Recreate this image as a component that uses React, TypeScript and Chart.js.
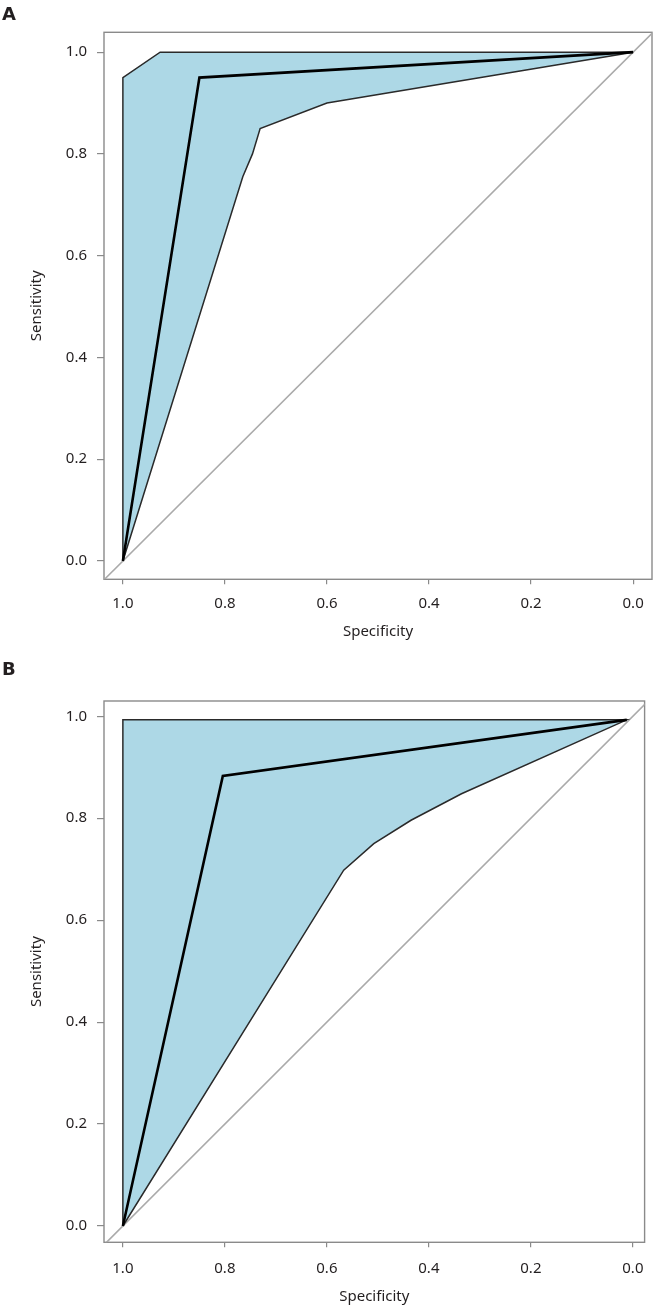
import React, { useEffect, useRef } from "react";
import { Chart, registerables } from "chart.js";

Chart.register(...registerables);

// ---- shared tick values ----
const tickValues = [0, 0.2, 0.4, 0.6, 0.8, 1.0];
const xTitle = "Specificity";
const yTitle = "Sensitivity";

// ---- Panel A data ----
const rocASpec = [1.0, 0.85, 0.0];
const rocASens = [0.0, 0.95, 1.0];
const ciAUpperSpec = [1.0, 1.0, 0.927, 0.0];
const ciAUpperSens = [0.0, 0.95, 1.0, 1.0];
const ciALowerSpec = [1.0, 0.765, 0.746, 0.731, 0.6, 0.0];
const ciALowerSens = [0.0, 0.755, 0.8, 0.85, 0.9, 1.0];

// ---- Panel B data ----
const rocBSpec = [1.0, 0.804, 0.012];
const rocBSens = [0.0, 0.883, 0.993];
const ciBUpperSpec = [1.0, 1.0, 0.012];
const ciBUpperSens = [0.0, 0.993, 0.993];
const ciBLowerSpec = [1.0, 0.567, 0.508, 0.435, 0.336, 0.012];
const ciBLowerSens = [0.0, 0.698, 0.75, 0.796, 0.848, 0.993];

// ---- reference diagonal (sensitivity = 1 - specificity) ----
const diagSpec = [1.2, -0.2];
const diagSens = [-0.2, 1.2];

const FONT = "'Noto Sans', 'DejaVu Sans', sans-serif";
const LABEL_FONT = "'DejaVu Sans', Verdana, sans-serif";

const pts = (xs: number[], ys: number[]) => xs.map((x, i) => ({ x, y: ys[i] }));

const boxPlugin = {
  id: "plotBox",
  beforeDatasetsDraw(chart: any) {
    const { ctx, chartArea } = chart;
    const { left, top, right, bottom } = chartArea;
    ctx.save();
    ctx.strokeStyle = "#8a8a8a";
    ctx.lineWidth = 1.4;
    ctx.strokeRect(left, top, right - left, bottom - top);
    ctx.restore();
  },
};

type PanelCfg = {
  height: number;
  padTop: number;
  padRight: number;
  xAxisHeight: number;
  xMin: number;
  xMax: number;
  yMin: number;
  yMax: number;
  xTickPad: number;
  xTitlePad: number;
  rocSpec: number[];
  rocSens: number[];
  upSpec: number[];
  upSens: number[];
  loSpec: number[];
  loSens: number[];
};

function buildChart(canvas: HTMLCanvasElement, p: PanelCfg) {
  const band = pts(p.upSpec, p.upSens).concat(pts(p.loSpec, p.loSens).reverse());
  return new Chart(canvas, {
    type: "line",
    data: {
      datasets: [
        {
          data: pts(p.rocSpec, p.rocSens),
          borderColor: "#000000",
          borderWidth: 2.6,
          pointRadius: 0,
          tension: 0,
          fill: false,
        },
        {
          data: band,
          borderColor: "#2a2a2a",
          borderWidth: 1.5,
          backgroundColor: "#add8e6",
          pointRadius: 0,
          tension: 0,
          fill: "shape",
        },
        {
          data: pts(diagSpec, diagSens),
          borderColor: "#aaaaaa",
          borderWidth: 1.6,
          pointRadius: 0,
          tension: 0,
          fill: false,
          clip: 0,
        },
      ] as any,
    },
    options: {
      responsive: false,
      animation: false,
      events: [],
      layout: { padding: { top: p.padTop, right: p.padRight, left: 0, bottom: 0 } },
      plugins: { legend: { display: false }, tooltip: { enabled: false } },
      scales: {
        x: {
          type: "linear",
          reverse: true,
          min: p.xMin,
          max: p.xMax,
          afterBuildTicks: (s: any) => {
            s.ticks = tickValues.map((v) => ({ value: v }));
          },
          afterFit: (s: any) => {
            s.height = p.xAxisHeight;
          },
          grid: { drawOnChartArea: false, drawTicks: true, tickLength: 5, color: "#8a8a8a", lineWidth: 1.2 },
          border: { display: false },
          ticks: {
            padding: p.xTickPad,
            color: "#231f20",
            font: { family: FONT, size: 15 },
            maxRotation: 0,
            autoSkip: false,
            callback: (v: any) => Number(v).toFixed(1),
          },
          title: {
            display: true,
            text: xTitle,
            color: "#231f20",
            font: { family: FONT, size: 15 },
            padding: { top: 0, bottom: p.xTitlePad },
          },
        },
        y: {
          type: "linear",
          min: p.yMin,
          max: p.yMax,
          afterBuildTicks: (s: any) => {
            s.ticks = tickValues.map((v) => ({ value: v }));
          },
          afterFit: (s: any) => {
            s.width = 104;
          },
          grid: { drawOnChartArea: false, drawTicks: true, tickLength: 7, color: "#8a8a8a", lineWidth: 1.2 },
          border: { display: false },
          ticks: {
            padding: 10,
            color: "#231f20",
            font: { family: FONT, size: 15 },
            autoSkip: false,
            callback: (v: any) => Number(v).toFixed(1),
          },
          title: {
            display: true,
            text: yTitle,
            color: "#231f20",
            font: { family: FONT, size: 15 },
            padding: { top: 28, bottom: 0 },
          },
        },
      },
    } as any,
    plugins: [boxPlugin],
  });
}

const panelA: PanelCfg = {
  height: 650,
  padTop: 32.3,
  padRight: 1,
  xAxisHeight: 650 - 579.3,
  xMin: -0.037,
  xMax: 1.037,
  yMin: -0.036,
  yMax: 1.039,
  xTickPad: 10.7,
  xTitlePad: 9,
  rocSpec: rocASpec,
  rocSens: rocASens,
  upSpec: ciAUpperSpec,
  upSens: ciAUpperSens,
  loSpec: ciALowerSpec,
  loSens: ciALowerSens,
};

const panelB: PanelCfg = {
  height: 661,
  padTop: 51,
  padRight: 8.4,
  xAxisHeight: 661 - 592.3,
  xMin: -0.023,
  xMax: 1.037,
  yMin: -0.032,
  yMax: 1.03,
  xTickPad: 12,
  xTitlePad: 5.3,
  rocSpec: rocBSpec,
  rocSens: rocBSens,
  upSpec: ciBUpperSpec,
  upSens: ciBUpperSens,
  loSpec: ciBLowerSpec,
  loSens: ciBLowerSens,
};

function Panel({ cfg, top, label }: { cfg: PanelCfg; top: number; label: string }) {
  const ref = useRef<HTMLCanvasElement | null>(null);
  useEffect(() => {
    if (!ref.current) return;
    const chart = buildChart(ref.current, cfg);
    return () => chart.destroy();
  }, [cfg]);
  return (
    <div style={{ position: "absolute", left: 0, top, width: 653, height: cfg.height }}>
      <canvas ref={ref} width={653} height={cfg.height} style={{ display: "block", width: 653, height: cfg.height }} />
      <div
        style={{
          position: "absolute",
          left: 2,
          top: label === "A" ? 4.9 : 9.5,
          fontFamily: LABEL_FONT,
          fontWeight: "bold",
          fontSize: 18,
          lineHeight: "18px",
          color: "#231f20",
        }}
      >
        {label}
      </div>
    </div>
  );
}

export default function App() {
  return (
    <div style={{ position: "absolute", left: 0, top: 0, width: 653, height: 1311, background: "#ffffff" }}>
      <Panel cfg={panelA} top={0} label="A" />
      <Panel cfg={panelB} top={650} label="B" />
    </div>
  );
}
